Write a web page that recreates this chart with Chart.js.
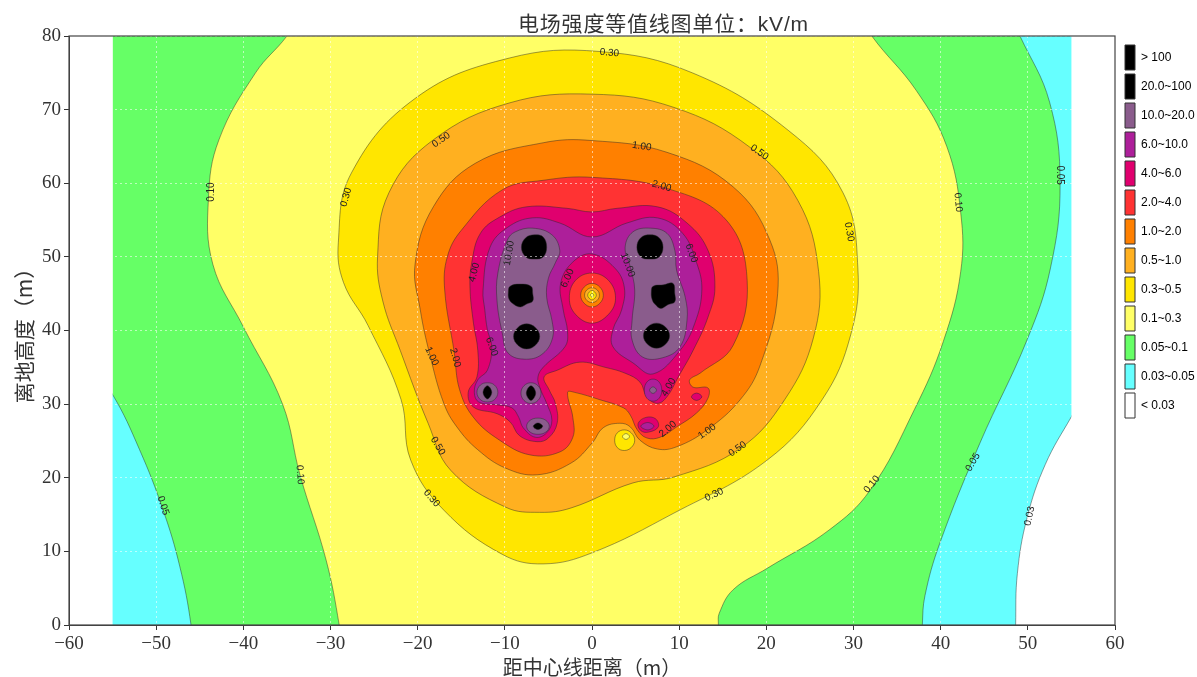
<!DOCTYPE html>
<html>
<head>
<meta charset="utf-8">
<title>电场强度等值线图</title>
<script src="https://cdn.jsdelivr.net/npm/chart.js@4/dist/chart.umd.min.js"></script>
<style>
  html, body { margin: 0; padding: 0; background: #fff; }
  canvas { display: block; }
</style>
</head>
<body>
<canvas id="contourChart" width="1197" height="677"></canvas>
<script>
// tick labels
const xTicks = [-60, -50, -40, -30, -20, -10, 0, 10, 20, 30, 40, 50, 60];
const yTicks = [0, 10, 20, 30, 40, 50, 60, 70, 80];

// legend
const legendLabels = ['> 100', '20.0~100', '10.0~20.0', '6.0~10.0', '4.0~6.0', '2.0~4.0', '1.0~2.0',
  '0.5~1.0', '0.3~0.5', '0.1~0.3', '0.05~0.1', '0.03~0.05', '< 0.03'];
const legendColors = ['#000000', '#000000', '#8A5C8C', '#AD1F9A', '#E0006E', '#FF3333', '#FF8000',
  '#FFB020', '#FFE600', '#FFFF66', '#66FF66', '#66FFFF', '#FFFFFF'];

// contour outlines, [distance m, height m]
const domain = [[-55, 0], [55, 0], [55, 80], [-55, 80]];
const maskLeft = [[-60, 0], [-55, 0], [-55, 80], [-60, 80]];
const maskRight = [[55, 0], [60, 0], [60, 80], [55, 80]];

const c005Left = [[-58, 36], [-55, 31.3], [-51.9, 23.8], [-49.2, 15.6], [-47.3, 8], [-46, 0], [-46, -3], [-58, -3]];
const c005Right = [[47.4, 84], [49.1, 80], [52.5, 71], [53.7, 60], [52.6, 48.5], [49.9, 38.7], [44.5, 24.7],
  [39.9, 11.1], [38.2, 4], [37.9, 0], [37.9, -3], [58.3, -3], [58.3, 84]];
const c003Right = [[56.5, 31.2], [55, 28.3], [52, 21.8], [49.9, 14.5], [48.8, 7], [48.6, 0], [48.6, -3], [58.3, -3], [58.3, 31.2]];

const c010 = [[-32.9, 84], [30.2, 84], [32.1, 80], [37.2, 72.6], [40.7, 65], [42.3, 56], [42.3, 48], [40.3, 38.5], [37, 29.3],
  [31.9, 18.3], [27.2, 12.9], [20.1, 7.7], [16.2, 4.8], [14.6, 1.6], [14.5, 0], [14.5, -3], [-28.8, -3], [-29, 0],
  [-30.5, 8.8], [-33.5, 20.4], [-35.5, 30], [-40, 40.5], [-43.5, 49], [-44, 58], [-42.8, 65.9], [-38.6, 75], [-35, 80]];

const c030 = [[-29.1, 52], [-27.6, 61.4], [-20.2, 71.6], [-9.5, 77], [0.8, 77.9], [11.5, 75], [22.5, 67.2], [28.8, 58.7],
  [30.5, 48.5], [29.7, 39.5], [26.4, 30.6], [20.1, 22.4], [9.4, 15.2], [0, 9.8], [-5.6, 8.3], [-10.3, 9.6], [-17, 15.6],
  [-20.8, 22.4], [-21.9, 30.6], [-25.7, 40.7], [-28.5, 46.5]];

const c050 = [[-24.6, 50], [-23.3, 58.7], [-18.2, 65.9], [-9.5, 70.9], [0, 72.1], [9.4, 70.3], [18.1, 64.9], [23.6, 57.7],
  [26, 48], [25.4, 39], [22.1, 30.6], [17, 24], [9.4, 20.1], [4.7, 19.3], [-2.4, 15.9], [-6, 15.3], [-9.9, 16], [-16.2, 21],
  [-18.8, 27.4], [-22, 37.3], [-24, 44]];

const c100 = [[-20.3, 49], [-18.2, 56.8], [-13.4, 62.7], [-5.6, 65.5], [0, 65.8], [8.6, 64.2], [16.2, 59.5], [20.4, 52.3],
  [21.3, 45], [19.3, 35.3], [17, 30.6], [13.2, 26.5], [9.7, 24.2], [7.5, 23.9], [5.5, 25.1], [4.4, 26.9], [3.2, 27.4],
  [1.3, 26.8], [0, 24.7], [-2.4, 22], [-6.3, 20.4], [-9.9, 21.3], [-13.1, 23.8], [-15.5, 26.9], [-17, 30.1], [-18.6, 36.7],
  [-19.7, 42.8]];

const c200 = [[-15, 53.6], [-10.3, 59.1], [-5.6, 60.4], [0, 60.8], [8.6, 59.3], [15.4, 55], [17.8, 46.8], [16.2, 38],
  [12.4, 34.2], [11.2, 33.3], [11.6, 32.3], [13.3, 32.2], [13.3, 30.8], [12, 28.8], [9.7, 26.9], [7.8, 25.5], [6.3, 25.4],
  [5.2, 26.5], [4.4, 28.5], [3.6, 29.5], [0.9, 30.6], [-2, 31.6], [-2.8, 31.6], [-2.2, 28.2], [-2.2, 25.5], [-3.7, 23.5],
  [-7.1, 23.1], [-10.6, 25.1], [-13.6, 28.2], [-15.2, 32], [-15.8, 37], [-16.9, 45.5], [-16.6, 50]];

const c400 = [[-14, 45.9], [-13.8, 49.2], [-12.8, 53.2], [-10.6, 55.4], [-7.5, 56.8], [-2.9, 56.6], [0, 56.1], [2.9, 56.6],
  [7.5, 56.8], [10.9, 54.6], [13.3, 50.9], [14.1, 45.9], [13.3, 41.8], [11.6, 37.3], [9.9, 33.7], [8.6, 31], [7.5, 30.1],
  [6.3, 31], [5.5, 33], [3.8, 34.2], [1.5, 35], [-1.4, 35.7], [-4, 34.6], [-5.5, 33.7], [-4.9, 31.9], [-4.2, 30.1],
  [-4, 27.4], [-5, 25.4], [-6.3, 24.9], [-8.3, 25.7], [-9.4, 27.6], [-10.9, 28.7], [-13.6, 29.6], [-14.2, 31.6],
  [-13.2, 33.7], [-13.1, 37.3], [-13.6, 41]];
const c400Right = [[11.4, 31], [12, 31.5], [12.6, 31], [12, 30.5]];
const c400Low = [[5.3, 27.4], [6.2, 28.2], [7.3, 28], [7.6, 26.9], [6.5, 26.2], [5.6, 26.4]];

const c600 = [[-12.5, 45.5], [-11.7, 51.3], [-9.7, 54], [-6.8, 55.3], [-3.7, 54.6], [0, 52.7], [4, 54.6], [7.5, 55.3],
  [10.4, 53.2], [12, 49.2], [12.6, 45.5], [11.8, 41], [10.1, 37.3], [7, 34.1], [4.7, 35.6], [2.4, 37.8], [2.4, 40.1],
  [3.4, 42.8], [3.7, 45.9], [2.6, 48.5], [0, 50.4], [-2.2, 49.3], [-3.6, 46.4], [-3.3, 42.8], [-2.8, 39.8], [-3.1, 37.8],
  [-5.6, 35], [-6.2, 33.7], [-6, 32.3], [-5.2, 30.1], [-4.6, 27.8], [-5.2, 26.1], [-6.5, 25.5], [-7.9, 26.8],
  [-8.4, 28.2], [-9.2, 29.5], [-10.9, 29.9], [-13, 30.3], [-13.5, 31.6], [-13.1, 33.3], [-12, 34.6], [-11.5, 37.8],
  [-12, 40.1], [-12.3, 42.8]];
const c600Right = [[6, 31.9], [6.3, 33], [7, 33.4], [7.7, 33], [8, 31.9], [7.7, 30.8], [7, 30.4], [6.3, 30.8]];
const c600Low = [[5.6, 27], [6.4, 27.5], [7.1, 27], [6.4, 26.5]];

const c1000Left = [[-9.7, 52.3], [-8.8, 53.4], [-6.8, 53.9], [-4.6, 53], [-3.7, 50.9], [-4.2, 49.2], [-5, 47.1], [-5.2, 44.5],
  [-4.6, 41.4], [-4.5, 39.1], [-5.6, 36.9], [-7.5, 36.1], [-9.6, 36.9], [-10.3, 39.7], [-10.9, 44.1], [-10.8, 47.8]];
const c1000Right = [[3.8, 51.3], [4.7, 53.4], [6.7, 53.9], [8.6, 53.2], [9.5, 50.9], [9.7, 48.2], [10.7, 44.5], [10.9, 41.4],
  [10.1, 37.8], [8.1, 36.3], [5.8, 36.4], [4.6, 38.7], [4.6, 41.4], [4.9, 45.5], [4.4, 48.6]];
const c1000A = [[-13.2, 31.6], [-12.8, 32.6], [-12, 32.9], [-11.2, 32.6], [-10.8, 31.6], [-11.2, 30.6], [-12, 30.3], [-12.8, 30.6]];
const c1000B = [[-8.15, 31.5], [-7.8, 32.5], [-7, 32.9], [-6.2, 32.5], [-5.85, 31.5], [-6.2, 30.5], [-7, 30.1], [-7.8, 30.5]];
const c1000C = [[-7.5, 27], [-7.1, 27.8], [-6.2, 28.1], [-5.3, 27.8], [-4.9, 27], [-5.3, 26.2], [-6.2, 25.9], [-7.1, 26.2]];
const c1000D = [[6.6, 31.9], [7, 32.35], [7.4, 31.9], [7, 31.45]];

const c2000A = [[-8.1, 51.3], [-7.6, 52.6], [-6.6, 53], [-5.6, 52.7], [-5.2, 51.3], [-5.6, 50], [-6.6, 49.7], [-7.6, 50]];
const c2000B = [[-9.4, 46], [-8.3, 46.3], [-7, 46], [-6.8, 45], [-6.8, 44], [-7.5, 43.6], [-8.2, 43.2], [-8.9, 43.5], [-9.5, 44.2], [-9.6, 45.2]];
const c2000C = [[-9, 39.2], [-8.5, 40.4], [-7.5, 40.9], [-6.5, 40.4], [-6, 39.2], [-6.5, 38], [-7.5, 37.5], [-8.5, 38]];
const c2000D = [[5.15, 51.3], [5.6, 52.6], [6.65, 53], [7.7, 52.6], [8.15, 51.3], [7.7, 50], [6.65, 49.7], [5.6, 50]];
const c2000E = [[7, 46], [8.2, 46.2], [9.3, 46.4], [9.5, 45], [9.5, 43.9], [8.7, 43.5], [7.9, 43], [7.2, 43.6], [6.9, 44.2], [6.8, 45.2]];
const c2000F = [[5.9, 39.3], [6.4, 40.5], [7.4, 41], [8.4, 40.5], [8.9, 39.3], [8.4, 38.1], [7.4, 37.6], [6.4, 38.1]];
const c2000G = [[-12.5, 31.6], [-12, 32.5], [-11.5, 31.6], [-12, 30.7]];
const c2000H = [[-7.54, 31.5], [-7, 32.5], [-6.46, 31.5], [-7, 30.5]];
const c2000I = [[-6.74, 27], [-6.2, 27.45], [-5.66, 27], [-6.2, 26.55]];

// rings round the mid point, and the small hollow near (4, 25)
const ring200 = [[-2.6, 44.4], [-1.9, 46.8], [0, 47.8], [1.9, 46.8], [2.7, 44.4], [1.9, 42.2], [0, 41], [-1.9, 42.2]];
const ring100 = [[-1.3, 44.8], [-0.9, 45.9], [0, 46.4], [0.9, 45.9], [1.3, 44.8], [0.9, 43.7], [0, 43.2], [-0.9, 43.7]];
const ring050 = [[-0.85, 44.8], [-0.6, 45.5], [0, 45.8], [0.6, 45.5], [0.85, 44.8], [0.6, 44.1], [0, 43.8], [-0.6, 44.1]];
const ring030 = [[-0.5, 44.8], [0, 45.45], [0.5, 44.8], [0, 44.15]];
const ring010 = [[-0.2, 44.8], [0, 45.05], [0.2, 44.8], [0, 44.55]];
const hollow030 = [[4.9, 25.1], [4.5, 26.1], [3.7, 26.5], [2.9, 26.1], [2.6, 25.1], [2.9, 24.1], [3.7, 23.7], [4.5, 24.1]];
const hollow010 = [[4.3, 25.6], [3.9, 26], [3.5, 25.6], [3.9, 25.2]];

// contour labels: text, distance, height, slope in degrees
const contourLabels = [
  ['0.30', 2, 77.7, 5], ['0.50', -17.3, 65.9, -35], ['0.50', 19.2, 64.2, 35], ['1.00', 5.7, 65, 8], ['2.00', 8, 59.6, 15],
  ['0.10', -43.7, 58.8, -90], ['0.30', -28.2, 58.1, -75], ['0.30', 29.5, 53.4, 80], ['0.10', 42, 57.4, 85], ['0.05', 53.7, 61.1, 90],
  ['10.00', -9.5, 50.5, -80], ['10.00', 4.1, 48.9, 70], ['6.00', -2.8, 47.1, -65], ['6.00', 11.4, 50.5, 70], ['6.00', -11.5, 37.8, 70],
  ['4.00', -13.5, 47.9, -75], ['2.00', -15.7, 36.3, 75], ['1.00', -18.4, 36.5, 65], ['0.50', -17.7, 24.3, 60], ['0.30', -18.4, 17.2, 50],
  ['0.10', -33.5, 20.4, 85], ['0.05', -49.2, 16.2, 72], ['4.00', 8.8, 32.3, -60], ['2.00', 8.7, 26.6, -40], ['1.00', 13.2, 26.3, -35],
  ['0.50', 16.7, 23.9, -35], ['0.30', 14, 17.7, -25], ['0.10', 32.1, 19.1, -50], ['0.05', 43.7, 22.1, -60], ['0.03', 50.2, 14.8, -78]
];

const GREEN = '#66FF66', CYAN = '#66FFFF', YELLOW = '#FFFF66', GOLD = '#FFE600', AMBER = '#FFB020',
  ORANGE = '#FF8000', RED = '#FF3333', MAGENTA = '#E0006E', PURPLE = '#AD1F9A', GREY = '#8A5C8C', BLACK = '#000000';
const LINE = 'rgba(40, 40, 40, 0.65)';

// painted in this order, outermost first
const layers = [
  [domain, GREEN, 0], [c005Left, CYAN], [c005Right, CYAN], [c003Right, '#FFFFFF'],
  [c010, YELLOW], [c030, GOLD], [c050, AMBER], [c100, ORANGE], [hollow030, GOLD], [hollow010, YELLOW],
  [c200, RED], [c400, MAGENTA], [c400Right, MAGENTA], [c400Low, MAGENTA], [c600, PURPLE], [c600Right, PURPLE], [c600Low, PURPLE],
  [ring200, RED], [ring100, ORANGE], [ring050, AMBER], [ring030, GOLD], [ring010, YELLOW],
  [c1000Left, GREY], [c1000Right, GREY], [c1000A, GREY], [c1000B, GREY], [c1000C, GREY], [c1000D, GREY],
  [c2000A, BLACK], [c2000B, BLACK], [c2000C, BLACK], [c2000D, BLACK], [c2000E, BLACK], [c2000F, BLACK],
  [c2000G, BLACK], [c2000H, BLACK], [c2000I, BLACK],
  [maskLeft, '#FFFFFF', 0], [maskRight, '#FFFFFF', 0]
];

const datasets = layers.map((l, i) => {
  const flat = l[2] === 0;
  return {
    data: l[0].map(p => ({ x: p[0], y: p[1] })),
    showLine: true,
    fill: 'shape',
    backgroundColor: l[1],
    borderColor: flat ? 'rgba(0,0,0,0)' : LINE,
    borderWidth: flat ? 0 : 0.7,
    pointRadius: 0,
    tension: flat ? 0 : 0.4,
    order: layers.length - i,
    clip: 0
  };
});

const overlayPlugin = {
  id: 'overlay',
  // same flags the radar controller uses, so each outline closes smoothly
  beforeDatasetUpdate(chart, args) {
    args.meta.dataset._loop = true;
    args.meta.dataset._fullLoop = true;
  },
  afterLayout(chart) {
    chart.legend.left = chart.chartArea.right + 6;
    chart.legend.top = 41;
  },
  afterDraw(chart) {
    const { ctx, chartArea: a, scales: { x, y } } = chart;
    ctx.save();
    ctx.textAlign = 'center';
    ctx.textBaseline = 'middle';
    ctx.fillStyle = '#222';
    ctx.font = '10px "Liberation Sans"';
    contourLabels.forEach(l => {
      ctx.save();
      ctx.translate(x.getPixelForValue(l[1]), y.getPixelForValue(l[2]));
      ctx.rotate(l[3] * Math.PI / 180);
      ctx.fillText(l[0], 0, 0);
      ctx.restore();
    });
    ctx.strokeStyle = '#444';
    ctx.lineWidth = 1.2;
    ctx.strokeRect(a.left, a.top, a.right - a.left, a.bottom - a.top);
    ctx.textAlign = 'left';
    ctx.fillStyle = '#333';
    ctx.font = '21px "Liberation Sans", "Noto Sans CJK SC"';
    ctx.letterSpacing = '0.8px';
    ctx.fillText('电场强度等值线图单位：kV/m', 518, 25);
    ctx.restore();
  }
};

const tickText = v => String(v).replace('-', '\u2212');
const gridOpts = { color: 'rgba(255,255,255,0.55)', lineWidth: 1, z: 1, tickColor: '#333', tickLength: 5, tickWidth: 1 };
const borderOpts = { color: '#444', width: 1, dash: [2, 3], z: 2 };
const tickFont = { family: '"Liberation Serif"', size: 19 };
const xTitleFont = { family: '"Noto Sans CJK SC"', size: 20, lineHeight: 1 };
const yTitleFont = { family: '"Noto Sans CJK SC"', size: 21, lineHeight: 1 };

new Chart(document.getElementById('contourChart').getContext('2d'), {
  type: 'scatter',
  data: { datasets: datasets },
  plugins: [overlayPlugin],
  options: {
    responsive: false,
    animation: false,
    devicePixelRatio: 1,
    layout: { padding: { top: 36, left: 0, right: 0, bottom: 0 } },
    elements: { line: { capBezierPoints: false } },
    scales: {
      x: {
        type: 'linear', min: -60, max: 60,
        afterBuildTicks: s => { s.ticks = xTicks.map(v => ({ value: v })); },
        afterFit: s => { s.height = 52; s.paddingLeft = 0; s.paddingRight = 0; },
        grid: gridOpts, border: borderOpts,
        ticks: { font: tickFont, color: '#333', padding: 3, maxRotation: 0, callback: tickText },
        title: { display: true, text: '距中心线距离（m）', font: xTitleFont, color: '#333', padding: 0 }
      },
      y: {
        type: 'linear', min: 0, max: 80,
        afterBuildTicks: s => { s.ticks = yTicks.map(v => ({ value: v })); },
        afterFit: s => { s.width = 69; s.paddingTop = 0; s.paddingBottom = 0; },
        grid: gridOpts, border: borderOpts,
        ticks: { font: tickFont, color: '#333', padding: 3, callback: tickText },
        title: { display: true, text: '离地高度（m）', font: yTitleFont, color: '#333', padding: { top: 14, bottom: 0 } }
      }
    },
    plugins: {
      tooltip: { enabled: false },
      title: { display: false },
      legend: {
        position: 'right',
        align: 'start',
        maxWidth: 82,
        onClick: null,
        labels: {
          boxWidth: 10,
          boxHeight: 25,
          padding: 4,
          color: '#333',
          font: { family: '"Liberation Sans"', size: 12 },
          generateLabels: () => legendLabels.map((t, i) => ({
            text: t, fillStyle: legendColors[i], strokeStyle: '#333', lineWidth: 1, hidden: false
          }))
        }
      }
    }
  }
});
</script>
</body>
</html>
